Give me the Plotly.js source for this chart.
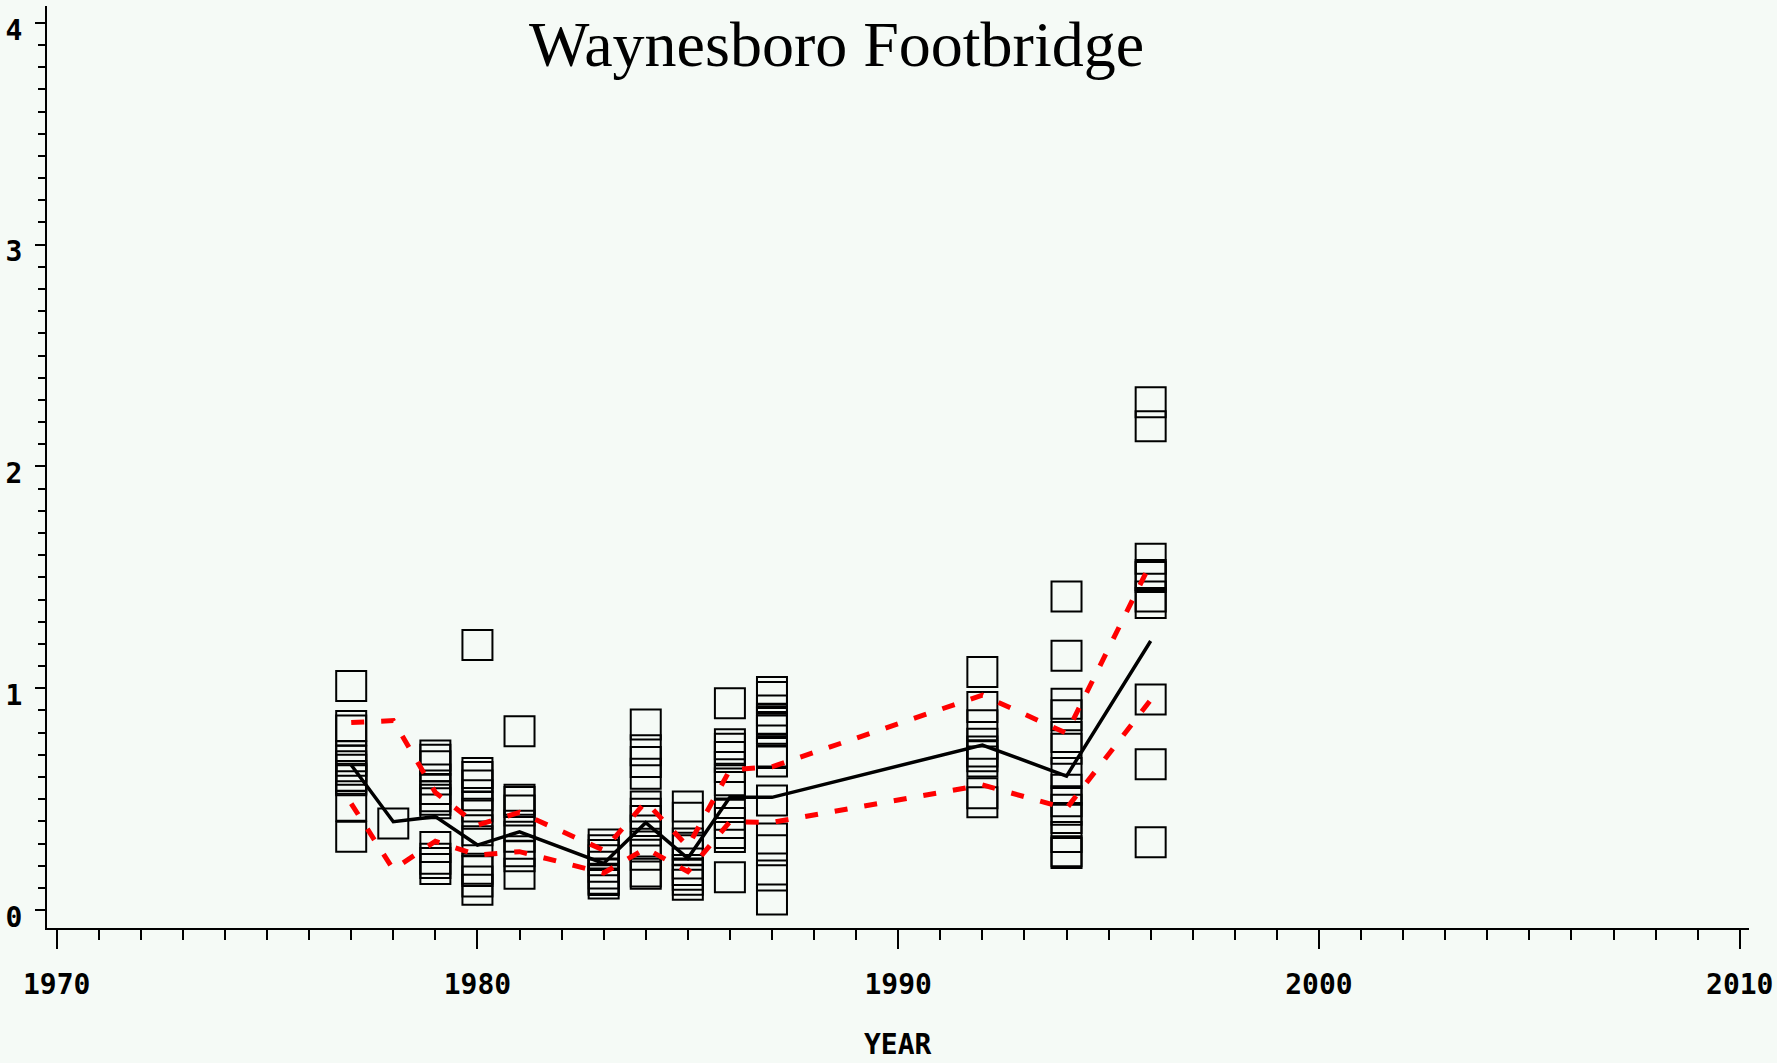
<!DOCTYPE html>
<html>
<head>
<meta charset="utf-8">
<script src="https://cdn.plot.ly/plotly-3.0.1.min.js"></script>
<style>
  html, body { margin: 0; padding: 0; background: #f5faf6; }
  #chart { width: 1777px; height: 1063px; }
</style>
</head>
<body>
<div id="chart"></div>
<script>
// ---- Data ----
const years = [1977, 1978, 1979, 1980, 1981, 1983, 1984, 1985, 1986, 1987, 1992, 1994, 1996];

const v1977 = [1.01, 0.83, 0.81, 0.693, 0.673, 0.648, 0.633, 0.604, 0.592, 0.585, 0.47, 0.33];
const v1978 = [0.39];
const v1979 = [0.697, 0.678, 0.648, 0.588, 0.546, 0.513, 0.497, 0.482, 0.284, 0.231, 0.212, 0.185];
const v1980 = [1.195, 0.618, 0.600, 0.562, 0.517, 0.467, 0.434, 0.36, 0.31, 0.186, 0.176, 0.129, 0.092];
const v1981 = [0.806, 0.497, 0.487, 0.449, 0.38, 0.33, 0.265, 0.242, 0.164];
const v1983 = [0.295, 0.27, 0.248, 0.225, 0.195, 0.165, 0.141, 0.135, 0.12];
const v1984 = [0.837, 0.72, 0.667, 0.615, 0.467, 0.434, 0.401, 0.359, 0.287, 0.249, 0.174, 0.164];
const v1985 = [0.467, 0.416, 0.30, 0.27, 0.21, 0.18, 0.159, 0.137, 0.114];
const v1986 = [0.932, 0.747, 0.727, 0.69, 0.645, 0.585, 0.57, 0.43, 0.392, 0.347, 0.329, 0.148];
const v1987 = [0.983, 0.96, 0.90, 0.863, 0.858, 0.843, 0.817, 0.81, 0.715, 0.708, 0.67, 0.494, 0.322, 0.27, 0.156, 0.047];
const v1992 = [1.073, 0.915, 0.833, 0.75, 0.715, 0.693, 0.67, 0.527, 0.486];
const v1994 = [1.414, 1.147, 0.93, 0.878, 0.78, 0.727, 0.618, 0.542, 0.49, 0.452, 0.415, 0.329, 0.265, 0.257];
const v1996 = [2.29, 2.181, 1.584, 1.51, 1.501, 1.414, 1.384, 0.949, 0.657, 0.306];

const medianLine = [0.654, 0.398, 0.421, 0.293, 0.353, 0.21, 0.394, 0.233, 0.508, 0.508, 0.744, 0.604, 1.213];
const upperBand  = [0.845, 0.854, 0.53, 0.383, 0.44, 0.27, 0.488, 0.286, 0.632, 0.646, 0.969, 0.797, 1.563];
const lowerBand  = [0.48, 0.183, 0.31, 0.248, 0.263, 0.167, 0.278, 0.173, 0.398, 0.395, 0.564, 0.458, 0.947];

const chartTitle = 'Waynesboro Footbridge';
const xTitle = 'YEAR';

// ---- Build traces ----
const groups = [v1977, v1978, v1979, v1980, v1981, v1983, v1984, v1985, v1986, v1987, v1992, v1994, v1996];
const ptsX = [], ptsY = [];
groups.forEach((vals, i) => vals.forEach(v => { ptsX.push(years[i]); ptsY.push(v); }));

const tickFont = { family: 'DejaVu Sans Mono', size: 28, color: '#000', weight: 'bold' };

const traces = [
  {
    type: 'scatter', mode: 'markers', x: ptsX, y: ptsY,
    marker: { symbol: 'square-open', size: 30, color: '#000', line: { width: 2, color: '#000' } },
    hoverinfo: 'x+y'
  },
  {
    type: 'scatter', mode: 'lines', x: years, y: medianLine,
    line: { color: '#000', width: 3.5 }
  },
  {
    type: 'scatter', mode: 'lines', x: years, y: upperBand,
    line: { color: '#ff0000', width: 5, dash: '13px,17px' }
  },
  {
    type: 'scatter', mode: 'lines', x: years, y: lowerBand,
    line: { color: '#ff0000', width: 5, dash: '13px,17px' }
  }
];

const layout = {
  width: 1777, height: 1063,
  paper_bgcolor: '#f5faf6', plot_bgcolor: '#f5faf6',
  showlegend: false,
  margin: { l: 47, r: 28, t: 6, b: 135, pad: 0 },
  title: {
    text: chartTitle,
    font: { family: 'Liberation Serif', size: 64, color: '#000' },
    x: 836.5 / 1777, xanchor: 'center',
    y: 1 - 44 / 1063, yanchor: 'middle', yref: 'container'
  },
  xaxis: {
    range: [1969.77, 2010.22],
    tick0: 1970, dtick: 10,
    ticks: 'outside', ticklen: 19, tickwidth: 2, tickcolor: '#000',
    minor: { dtick: 1, tick0: 1970, ticks: 'outside', ticklen: 10, tickwidth: 2, tickcolor: '#000', showgrid: false },
    showline: true, linecolor: '#000', linewidth: 2,
    showgrid: false, zeroline: false,
    tickfont: tickFont, ticklabelstandoff: 11
  },
  yaxis: {
    range: [-0.081, 4.076],
    tick0: 0, dtick: 1,
    ticks: 'outside', ticklen: 10, tickwidth: 2, tickcolor: '#000',
    minor: { dtick: 0.1, tick0: 0, ticks: 'outside', ticklen: 7, tickwidth: 2, tickcolor: '#000', showgrid: false },
    showline: true, linecolor: '#000', linewidth: 2,
    showgrid: false, zeroline: false,
    tickfont: tickFont, ticklabelstandoff: 7, ticklabelshift: 7
  },
  annotations: [
    {
      text: xTitle, font: tickFont, showarrow: false, borderpad: 0,
      xref: 'paper', yref: 'paper', x: 0.5, y: -(1062 - 928) / 922,
      xanchor: 'center', yanchor: 'bottom'
    }
  ]
};

Plotly.newPlot('chart', traces, layout, { displayModeBar: false, staticPlot: true });
</script>
</body>
</html>
